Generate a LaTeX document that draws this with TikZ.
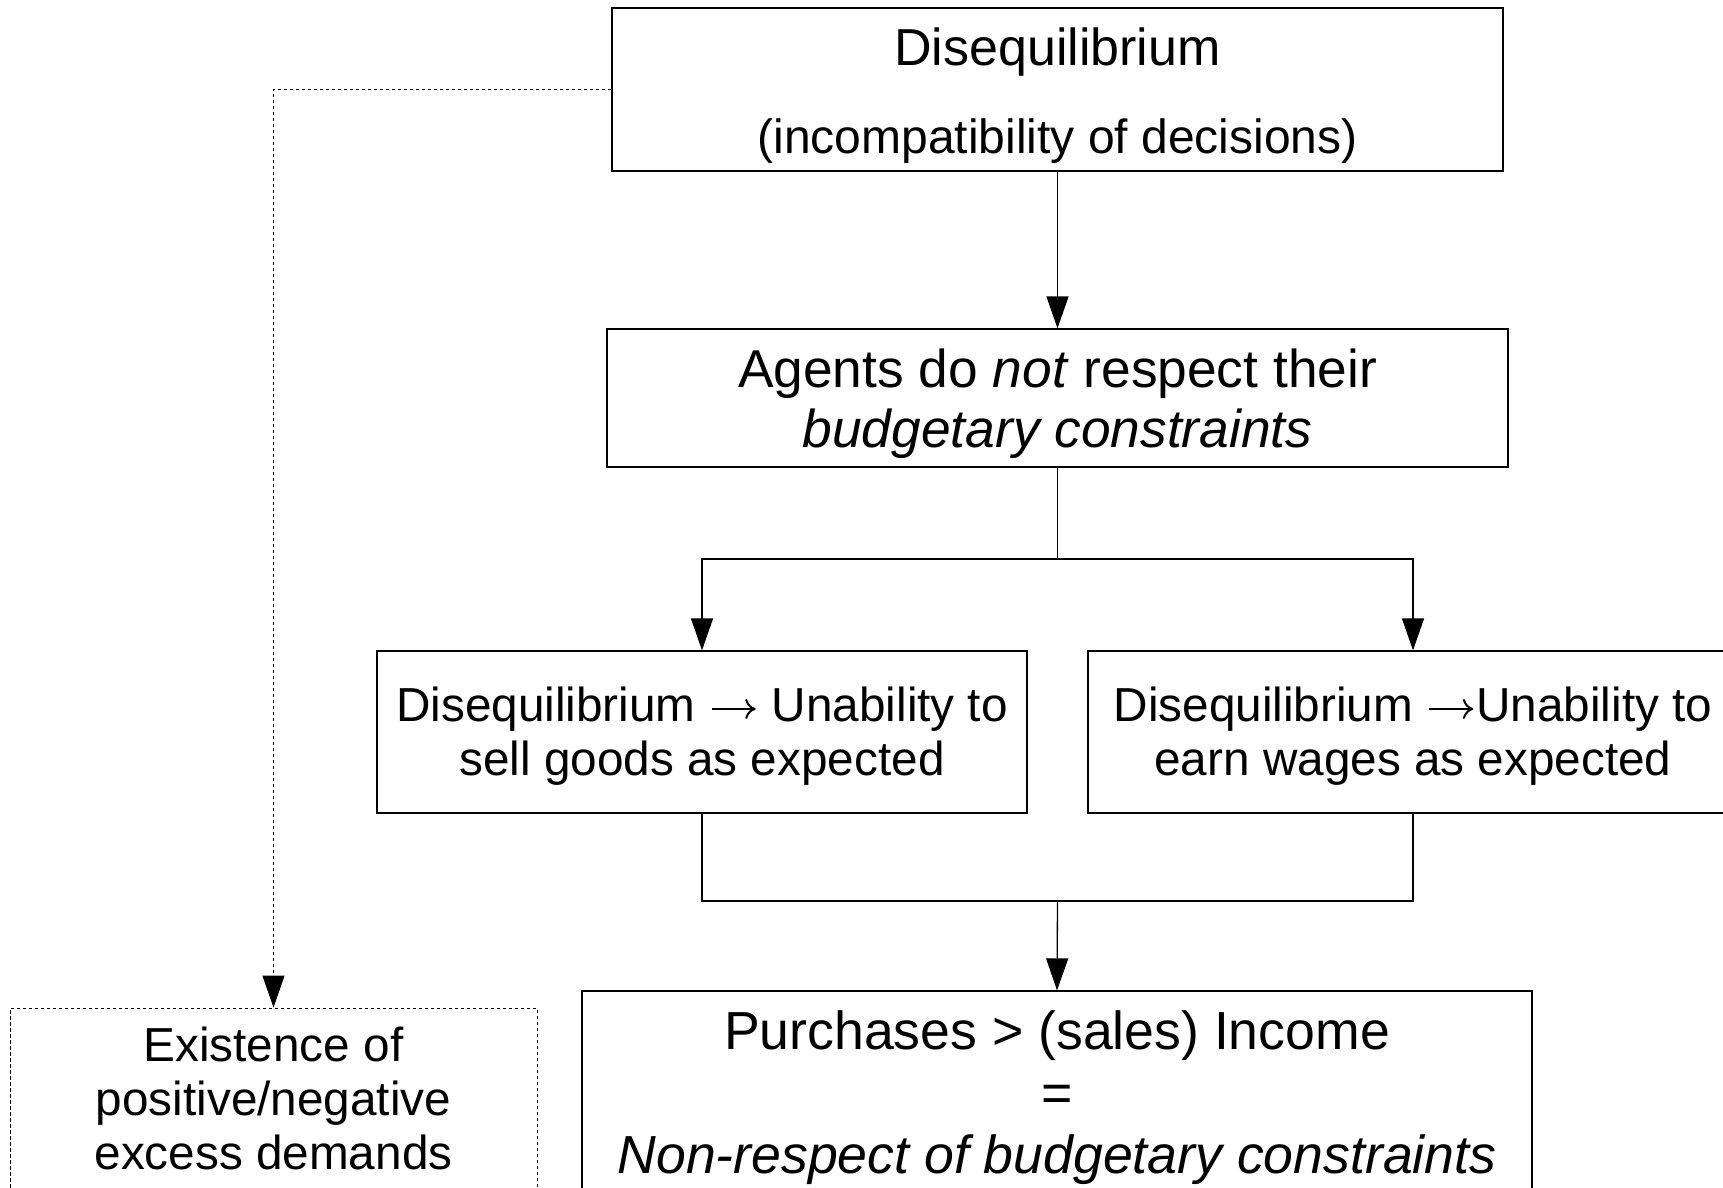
\documentclass[tikz,border=0pt]{standalone}
\usepackage{fontspec}
\setmainfont{Liberation Sans}
\usetikzlibrary{arrows.meta}
% a thin right arrow, one em wide, drawn inline in the text
\newcommand{\rarr}{\hspace{0.04em}\tikz[baseline=-0.27em]\draw[line width=0.042em, line cap=butt,
  -{To[length=0.22em,width=0.42em,line width=0.042em]}] (0,0) -- (0.92em,0);\hspace{0.04em}}
\begin{document}
\begin{tikzpicture}[x=1pt,y=-1pt,
  box/.style={draw=black, line width=1.3pt, rectangle, inner sep=0pt},
  dbox/.style={draw=black, line width=1pt, dash pattern=on 3.5pt off 2.5pt, rectangle, inner sep=0pt},
  txt/.style={inner sep=0pt, align=center},
  conn/.style={draw=black, line width=1.3pt},
  arr/.style={conn, -{Triangle[width=22pt,length=32pt]}},
  darr/.style={draw=black, line width=1pt, dash pattern=on 3.5pt off 2.5pt, -{Triangle[width=22pt,length=32pt]}},
  big/.style={font=\fontsize{53.3}{60}\selectfont},
  small/.style={font=\fontsize{47.7}{54}\selectfont}
]
\useasboundingbox (0,0) rectangle (1723,1187);
\fill[white] (0,0) rectangle (1723,1187);
\clip (0,0) rectangle (1723,1187);

% boxes
\node[box, minimum width=891pt, minimum height=163pt] (d1) at (1057.5,89.5) {};
\node[box, minimum width=901pt, minimum height=138pt] (d2) at (1057.5,398) {};
\node[box, minimum width=650pt, minimum height=162pt] (d3) at (702,732) {};
\node[box, minimum width=650pt, minimum height=162pt] (d4) at (1413,732) {};
\node[box, minimum width=950pt, minimum height=204pt] (d5) at (1057,1093) {};
\node[dbox, minimum width=527pt, minimum height=180pt] (d6) at (273.5,1098) {};

% box texts
\node[txt, font=\fontsize{52}{88}\selectfont] (t1) at ([yshift=-6.5pt]d1.center)
  {Disequilibrium\\{\fontsize{48}{88}\selectfont(incompatibility of decisions)}};
\node[txt, big] (t2) at ([yshift=-5.5pt]d2.center)
  {Agents do \textit{not} respect their\\\textit{budgetary constraints}};
\node[txt, small] (t3) at ([yshift=-4.5pt]d3.center)
  {Disequilibrium \rarr{} Unability to\\sell goods as expected};
\node[txt, small] (t4) at ([yshift=-4.5pt]d4.center)
  {Disequilibrium \rarr{}Unability to\\earn wages as expected};
\node[txt, font=\fontsize{53.6}{62}\selectfont] (t5) at ([yshift=-5pt]d5.center)
  {Purchases > (sales) Income\\=\\\textit{Non-respect of budgetary constraints}};
\node[txt, small] (t6) at (d6.center)
  {Existence of\\positive/negative\\excess demands};

% junction points
\coordinate (split) at (1057.5,559);
\coordinate (merge) at (1057.5,901);

% connectors
\draw[arr] (d1.south) -- (d2.north);
\draw[conn] (d2.south) -- (split);
\draw[arr] (split) -| (d3.north);
\draw[arr] (split) -| (d4.north);
\draw[conn] (d3.south) |- (merge);
\draw[conn] (d4.south) |- (merge);
\draw[arr] (merge) -- (d5.north);
\draw[darr] (d1.west) -| (d6.north);
\end{tikzpicture}
\end{document}
